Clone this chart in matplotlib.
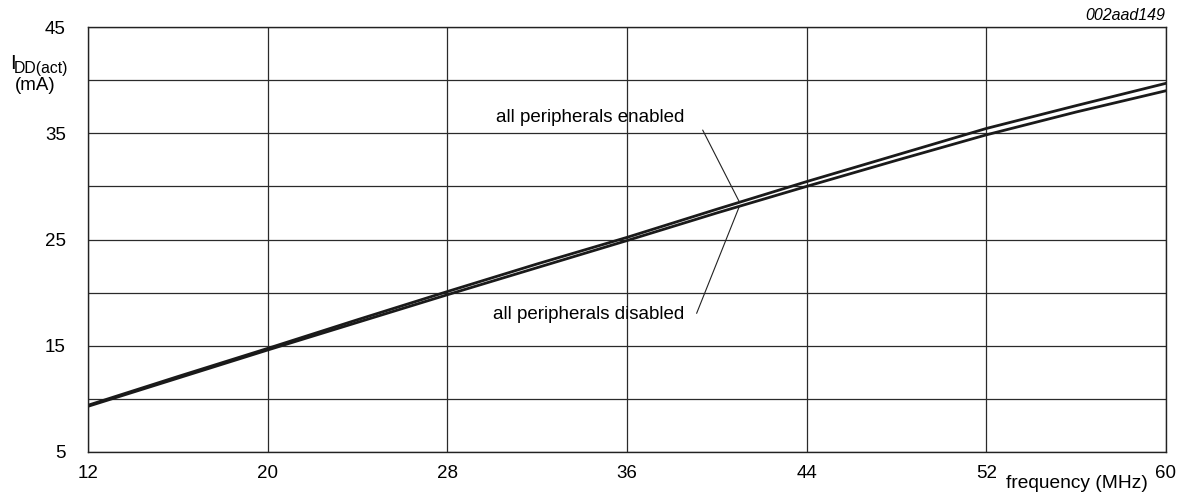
import matplotlib
matplotlib.use('Agg')
import matplotlib.pyplot as plt

# data (frequency in MHz, current in mA)
freq_mhz = [12, 16, 20, 24, 28, 32, 36, 40, 44, 48, 52, 56, 60]
idd_enabled = [9.4, 12.1, 14.75, 17.45, 20.1, 22.7, 25.2, 27.85, 30.45, 32.95, 35.45, 37.6, 39.7]
idd_disabled = [9.3, 11.95, 14.6, 17.2, 19.8, 22.35, 24.9, 27.5, 30.0, 32.45, 34.85, 37.0, 39.0]

x_ticks = [12, 20, 28, 36, 44, 52, 60]
y_ticks = [5, 15, 25, 35, 45]
y_minor = [10, 20, 30, 40]

label_enabled = 'all peripherals enabled'
label_disabled = 'all peripherals disabled'
fig_code = '002aad149'


def main():
    plt.rcParams['font.family'] = ['Liberation Sans', 'DejaVu Sans']

    fig = plt.figure(figsize=(11.8, 4.95), dpi=100)
    ax = fig.add_axes([88 / 1180, 43 / 495, 1078 / 1180, 425 / 495])

    line_col = '#1a1a1a'
    ax.plot(freq_mhz, idd_enabled, color=line_col, linewidth=2.0)
    ax.plot(freq_mhz, idd_disabled, color=line_col, linewidth=2.0)

    ax.set_xlim(12, 60)
    ax.set_ylim(5, 45)
    ax.set_xticks(x_ticks)
    ax.set_yticks(y_ticks)
    ax.set_yticks(y_minor, minor=True)
    ax.grid(True, which='both', color='#2a2a2a', linewidth=0.9)
    ax.set_axisbelow(True)
    ax.tick_params(axis='both', which='both', length=0, labelsize=13.5)
    ax.tick_params(axis='y', pad=16)
    ax.tick_params(axis='x', pad=9)
    for s in ax.spines.values():
        s.set_linewidth(1.0)
        s.set_color('#222222')

    # labels with leader lines
    ax.text(34.35, 36.45, label_enabled, ha='center', va='center', fontsize=13.5)
    ax.text(34.3, 17.9, label_disabled, ha='center', va='center', fontsize=13.5)
    lead = dict(arrowstyle='-', color='#222222', lw=0.8, shrinkA=0, shrinkB=0)
    ax.annotate('', xy=(41.0, 28.55), xytext=(39.37, 35.3), arrowprops=lead)
    ax.annotate('', xy=(41.0, 28.1), xytext=(39.1, 18.05), arrowprops=lead)

    # axis titles in the corners
    fig.text(10 / 1180, 1 - 69 / 495, 'I', ha='left', va='baseline', fontsize=14.5)
    fig.text(14 / 1180, 1 - 73 / 495, 'DD(act)', ha='left', va='baseline', fontsize=11.3)
    fig.text(35.5 / 1180, 1 - 86 / 495, '(mA)', ha='center', va='center', fontsize=13.5)
    fig.text(1148 / 1180, 1 - 483 / 495, 'frequency (MHz)', ha='right', va='center',
             fontsize=13.8)
    fig.text(1165 / 1180, 1 - 16 / 495, fig_code, ha='right', va='center',
             fontsize=11.5, style='italic')

    fig.savefig('out.png', dpi=100)


if __name__ == '__main__':
    main()
